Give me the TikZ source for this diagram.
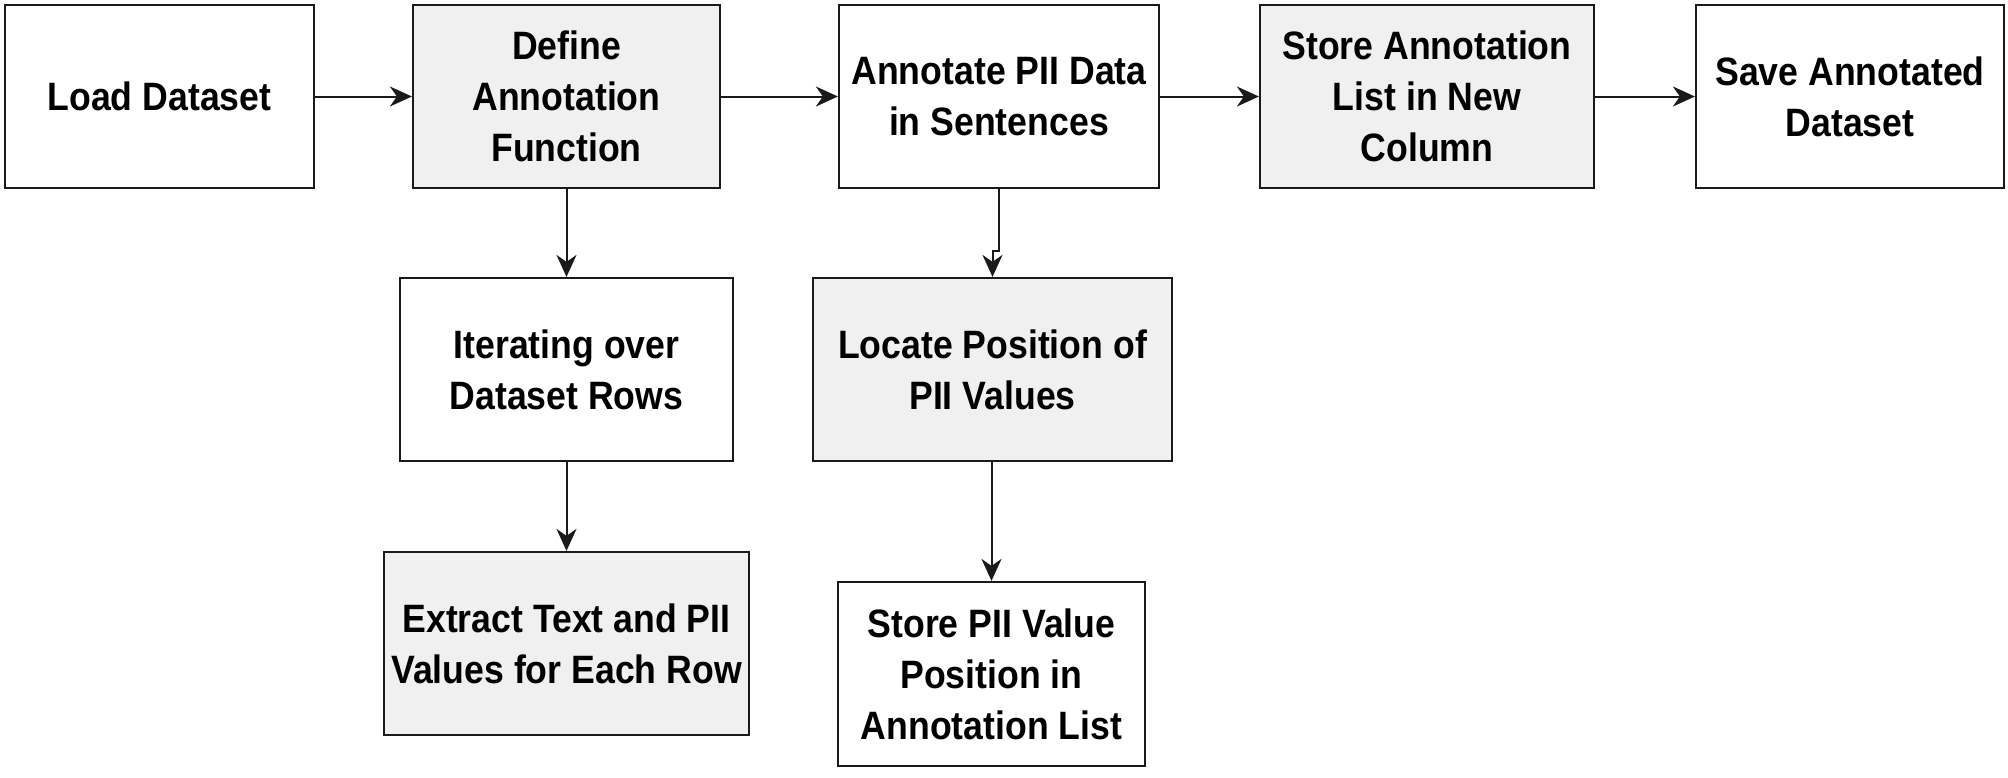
\documentclass[tikz,border=0pt]{standalone}
\usepackage{fontspec}
\setmainfont{Liberation Sans}[FakeStretch=0.9]
\usetikzlibrary{arrows.meta}
\definecolor{boxgray}{HTML}{F0F0F0}
\definecolor{edge}{HTML}{1A1A1A}
\begin{document}
\begin{tikzpicture}[x=0.5pt,y=-0.5pt,
  box/.style={draw=edge, line width=1.1pt, fill=white, align=center, inner sep=0pt,
    font=\fontsize{19.8pt}{25.5pt}\selectfont\bfseries, minimum height=91.5pt},
  graybox/.style={box, fill=boxgray},
  arr/.style={draw=edge, line width=1pt, -{Stealth[length=11pt,width=10pt,inset=3.5pt]}}]
\useasboundingbox[fill=white] (0,0) rectangle (2008,777);
\node[box, minimum width=154.5pt] (load) at (159.5,96.5) {Load Dataset};
\node[graybox, minimum width=153.5pt] (def) at (566.5,96.5) {Define\\Annotation\\Function};
\node[box, minimum width=160pt] (ann) at (999,96.5) {Annotate PII Data\\in Sentences};
\node[graybox, minimum width=167pt] (sto) at (1427,96.5) {Store Annotation\\List in New\\Column};
\node[box, minimum width=154pt] (save) at (1850,96.5) {Save Annotated\\Dataset};
\node[box, minimum width=166.5pt] (iter) at (566.5,369.5) {Iterating over\\Dataset Rows};
\node[graybox, minimum width=179.5pt] (loc) at (992.5,369.5) {Locate Position of\\PII Values};
\node[graybox, minimum width=182.5pt] (ext) at (566.5,643.5) {Extract Text and PII\\Values for Each Row};
\node[box, minimum width=153.5pt, minimum height=92pt] (spv) at (991.5,674) {Store PII Value\\Position in\\Annotation List};
\draw[arr] (load) -- (def);
\draw[arr] (def) -- (ann);
\draw[arr] (ann) -- (sto);
\draw[arr] (sto) -- (save);
\draw[arr] (def) -- (iter);
\draw[arr] (iter) -- (ext);
\draw[arr] (ann.south) -- ++(0,62) -| (loc.north);
\draw[arr] (loc.south -| spv.north) -- (spv.north);
\end{tikzpicture}
\end{document}
